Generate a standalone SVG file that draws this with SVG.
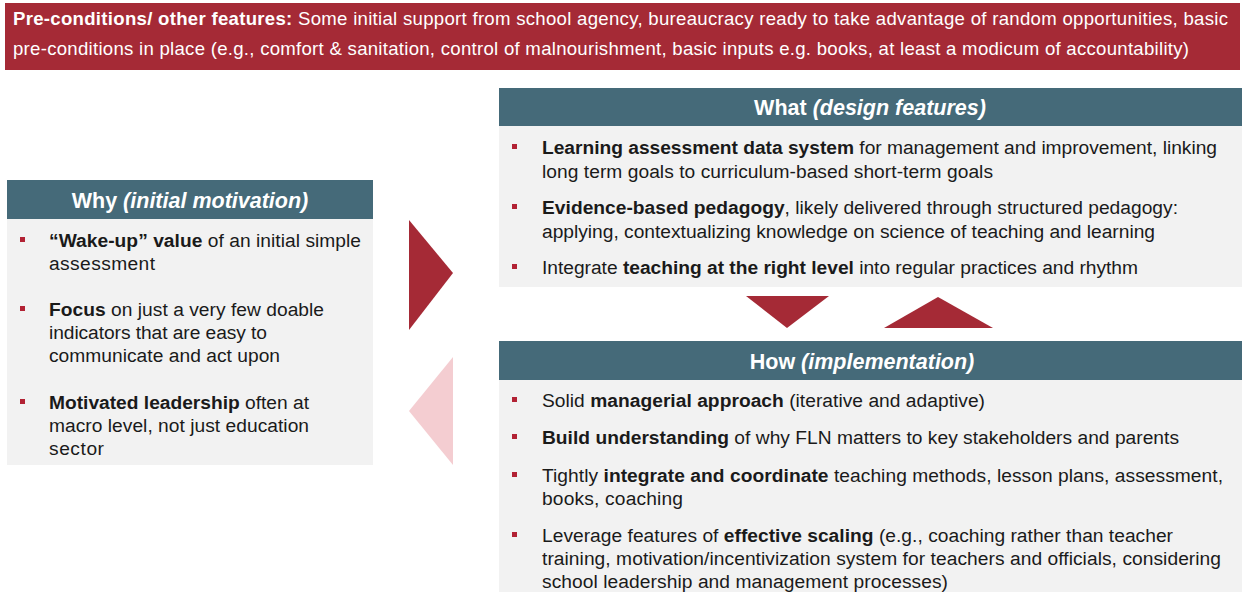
<svg xmlns="http://www.w3.org/2000/svg" width="1242" height="592" viewBox="0 0 1242 592">
<style>
text{font-family:"Liberation Sans",Arial,sans-serif;}
.b{font-size:19.2px;fill:#1a1a1a;}
.bd{font-weight:bold;}
.hd{font-size:21.5px;fill:#ffffff;font-weight:bold;}
.ban{font-size:18.6px;fill:#ffffff;}
.hdr{fill:#456A79;}
.body{fill:#F2F2F2;}
.bul{fill:#B22234;}
.red{fill:#A52A36;}
.pink{fill:#F4CDD1;}
</style>
<rect width="1242" height="592" fill="#ffffff"/>
<g id="preconditions">
<rect x="5" y="3" width="1235" height="67" class="red"/>
<text class="ban" x="13" y="25" textLength="1215"><tspan class="bd">Pre-conditions/ other features:</tspan> Some initial support from school agency, bureaucracy ready to take advantage of random opportunities, basic</text>
<text class="ban" x="13" y="55" textLength="1176">pre-conditions in place (e.g., comfort &amp; sanitation,  control of malnourishment, basic inputs e.g. books, at least a modicum of accountability)</text>
</g>
<g id="why">
<rect x="7" y="180" width="366" height="39" class="hdr"/>
<rect x="7" y="219" width="366" height="246" class="body"/>
<text class="hd" x="190" y="208" text-anchor="middle">Why <tspan font-style="italic">(initial motivation)</tspan></text>
<rect x="20" y="237" width="5" height="5" class="bul"/>
<text class="b" x="49" y="247" textLength="312"><tspan class="bd">“Wake-up” value</tspan> of an initial simple</text>
<text class="b" x="49" y="270" textLength="106">assessment</text>
<rect x="20" y="306" width="5" height="5" class="bul"/>
<text class="b" x="49" y="316" textLength="275"><tspan class="bd">Focus</tspan> on just a very few doable</text>
<text class="b" x="49" y="339" textLength="218">indicators that are easy to</text>
<text class="b" x="49" y="362" textLength="231">communicate and act upon</text>
<rect x="20" y="399" width="5" height="5" class="bul"/>
<text class="b" x="49" y="409" textLength="260"><tspan class="bd">Motivated leadership</tspan> often at</text>
<text class="b" x="49" y="432" textLength="260">macro level, not just education</text>
<text class="b" x="49" y="455" textLength="55">sector</text>
</g>
<g id="what">
<rect x="499" y="88" width="743" height="38" class="hdr"/>
<rect x="499" y="126" width="743" height="161" class="body"/>
<text class="hd" x="870" y="115" text-anchor="middle">What <tspan font-style="italic">(design features)</tspan></text>
<rect x="512" y="144" width="5" height="5" class="bul"/>
<text class="b" x="542" y="154" textLength="675"><tspan class="bd">Learning assessment data system</tspan> for management and improvement, linking</text>
<text class="b" x="542" y="178" textLength="451">long term goals to curriculum-based short-term goals</text>
<rect x="512" y="204" width="5" height="5" class="bul"/>
<text class="b" x="542" y="214" textLength="636"><tspan class="bd">Evidence-based pedagogy</tspan>, likely delivered through structured pedagogy:</text>
<text class="b" x="542" y="238" textLength="613">applying, contextualizing knowledge on science of teaching and learning</text>
<rect x="512" y="264" width="5" height="5" class="bul"/>
<text class="b" x="542" y="274" textLength="596">Integrate <tspan class="bd">teaching at the right level</tspan> into regular practices and rhythm</text>
</g>
<g id="how">
<rect x="499" y="341" width="743" height="39" class="hdr"/>
<rect x="499" y="380" width="743" height="212" class="body"/>
<text class="hd" x="862" y="369" text-anchor="middle">How <tspan font-style="italic">(implementation)</tspan></text>
<rect x="512" y="397" width="5" height="5" class="bul"/>
<text class="b" x="542" y="407" textLength="443">Solid <tspan class="bd">managerial approach</tspan> (iterative and adaptive)</text>
<rect x="512" y="434" width="5" height="5" class="bul"/>
<text class="b" x="542" y="444" textLength="637"><tspan class="bd">Build understanding</tspan> of why FLN matters to key stakeholders and parents</text>
<rect x="512" y="472" width="5" height="5" class="bul"/>
<text class="b" x="542" y="482" textLength="681">Tightly <tspan class="bd">integrate and coordinate</tspan> teaching methods, lesson plans, assessment,</text>
<text class="b" x="542" y="505" textLength="141">books, coaching</text>
<rect x="512" y="532" width="5" height="5" class="bul"/>
<text class="b" x="542" y="542" textLength="631">Leverage features of <tspan class="bd">effective scaling</tspan> (e.g., coaching rather than teacher</text>
<text class="b" x="542" y="565" textLength="679">training,  motivation/incentivization system for teachers and officials, considering</text>
<text class="b" x="542" y="588" textLength="406">school leadership and management processes)</text>
</g>
<g id="connectors">
<polygon points="409,220 453,273 409,330" class="red"/>
<polygon points="453,357 409,411 453,465" class="pink"/>
<polygon points="746,296 829,296 787,328" class="red"/>
<polygon points="884,328 993,328 938,297" class="red"/>
</g>
</svg>
